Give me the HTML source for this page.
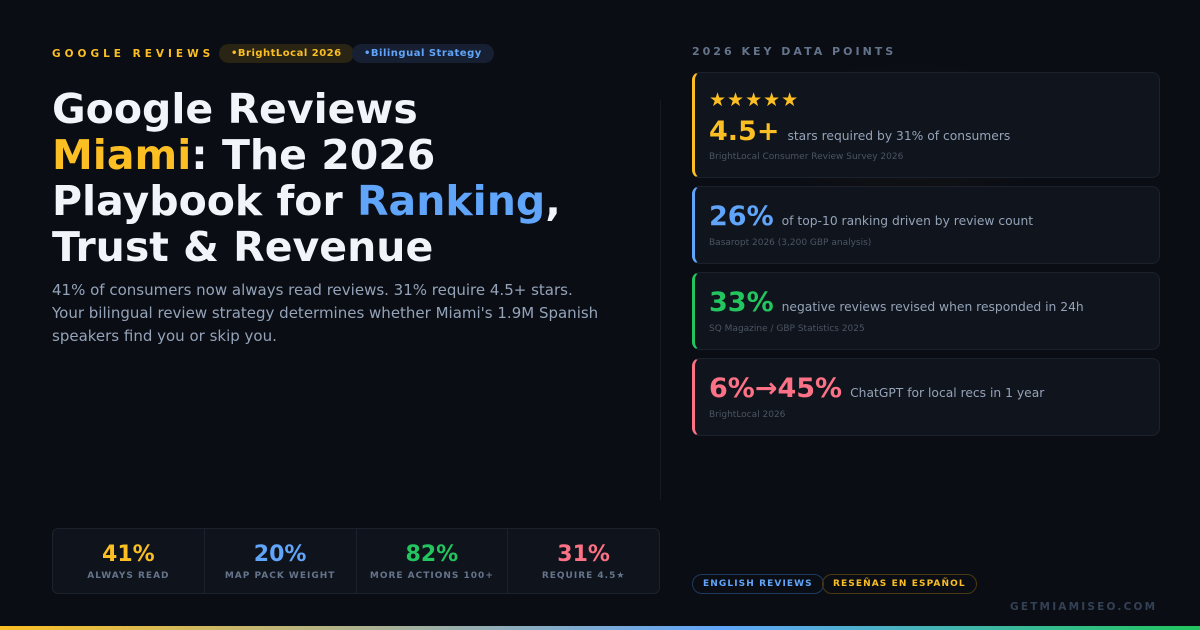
<!DOCTYPE html>
<html><head><meta charset="utf-8"><style>
*{margin:0;padding:0;box-sizing:border-box}
body{width:1200px;height:630px;background:#0a0d14;font-family:"DejaVu Sans","Liberation Sans",sans-serif;position:relative;overflow:hidden;color:#f1f5f9}
.abs{position:absolute}
.kicker{left:52px;top:48px;font-size:10.5px;font-weight:bold;letter-spacing:4px;color:#fbbf24}
.pill{top:44px;height:19px;border-radius:10px;font-size:10px;font-weight:bold;line-height:19px;padding:0 12px;letter-spacing:.5px}
h1{position:absolute;left:52px;top:86px;font-size:41px;line-height:46px;font-weight:bold;color:#f1f5f9}
.sub{left:52px;top:279px;width:560px;font-size:15px;line-height:23px;color:#94a3b8}
.card{left:692px;width:468px;background:#10141c;border:1px solid #1c222d;border-radius:8px;border-left:3px solid}
.big{font-size:27px;font-weight:bold;display:inline-block;margin-right:8px}
.desc{font-size:12.3px;color:#94a3b8}
.src{font-size:9px;color:#4b5563;margin-top:6px}
.stats{left:52px;top:528px;width:608px;height:66px;border:1px solid #1c222d;border-radius:6px;background:#0f131b;display:flex}
.stats div{flex:1;text-align:center;border-right:1px solid #1c222d;padding-top:13px}
.stats div:last-child{border-right:none}
.stats b{display:block;font-size:22px;line-height:26px}
.stats span{font-size:9px;letter-spacing:1px;font-weight:bold;color:#64748b;display:block;margin-top:3px}
.tag{top:574px;height:20px;border-radius:10px;font-size:9px;font-weight:bold;letter-spacing:1.1px;line-height:18px;padding:0 10px}
</style></head><body>
<div class="abs" style="left:760px;top:60px;width:300px;height:150px;background:radial-gradient(ellipse at center,rgba(251,191,36,.05),transparent 70%)"></div>
<div class="abs kicker">GOOGLE REVIEWS</div>
<div class="abs pill" style="left:219px;background:#2a2414;color:#fbbf24">•BrightLocal 2026</div>
<div class="abs pill" style="left:352px;background:#172033;color:#60a5fa">•Bilingual Strategy</div>
<h1>Google Reviews<br><span style="color:#fbbf24">Miami</span>: The 2026<br>Playbook for <span style="color:#60a5fa">Ranking</span>,<br>Trust &amp; Revenue</h1>
<div class="abs sub">41% of consumers now always read reviews. 31% require 4.5+ stars.<br>Your bilingual review strategy determines whether Miami's 1.9M Spanish speakers find you or skip you.</div>
<div class="abs" style="left:660px;top:100px;width:1px;height:400px;background:#151a23"></div>
<div class="abs" style="left:692px;top:45px;font-size:11px;font-weight:bold;letter-spacing:3px;color:#64748b">2026 KEY DATA POINTS</div>

<div class="abs card" style="top:72px;height:106px;border-left-color:#fbbf24;padding:16px 0 0 14px">
<div style="color:#fbbf24;font-size:19px;letter-spacing:1px;line-height:22px">★★★★★</div>
<div style="margin-top:5px"><span class="big" style="color:#fbbf24">4.5+</span><span class="desc">stars required by 31% of consumers</span></div>
<div class="src" style="margin-top:5px">BrightLocal Consumer Review Survey 2026</div></div>

<div class="abs card" style="top:186px;height:78px;border-left-color:#60a5fa;padding:14px 0 0 14px">
<div><span class="big" style="color:#60a5fa">26%</span><span class="desc">of top-10 ranking driven by review count</span></div>
<div class="src">Basaropt 2026 (3,200 GBP analysis)</div></div>

<div class="abs card" style="top:272px;height:78px;border-left-color:#22c55e;padding:14px 0 0 14px">
<div><span class="big" style="color:#22c55e">33%</span><span class="desc">negative reviews revised when responded in 24h</span></div>
<div class="src">SQ Magazine / GBP Statistics 2025</div></div>

<div class="abs card" style="top:358px;height:78px;border-left-color:#fb7185;padding:14px 0 0 14px">
<div><span class="big" style="color:#fb7185">6%→45%</span><span class="desc">ChatGPT for local recs in 1 year</span></div>
<div class="src">BrightLocal 2026</div></div>

<div class="abs stats">
<div><b style="color:#fbbf24">41%</b><span>ALWAYS READ</span></div>
<div><b style="color:#60a5fa">20%</b><span>MAP PACK WEIGHT</span></div>
<div><b style="color:#22c55e">82%</b><span>MORE ACTIONS 100+</span></div>
<div><b style="color:#fb7185">31%</b><span>REQUIRE 4.5★</span></div>
</div>

<div class="abs tag" style="left:692px;border:1px solid #1e3a5f;color:#60a5fa">ENGLISH REVIEWS</div>
<div class="abs tag" style="left:822px;border:1px solid #4a3a12;color:#fbbf24">RESEÑAS EN ESPAÑOL</div>
<div class="abs" style="left:1010px;top:601px;font-size:10.5px;font-weight:bold;letter-spacing:2.2px;color:#334155">GETMIAMISEO.COM</div>
<div class="abs" style="left:0;top:626px;width:1200px;height:4px;background:linear-gradient(90deg,#fbbf24,#60a5fa 60%,#22c55e)"></div>
</body></html>
